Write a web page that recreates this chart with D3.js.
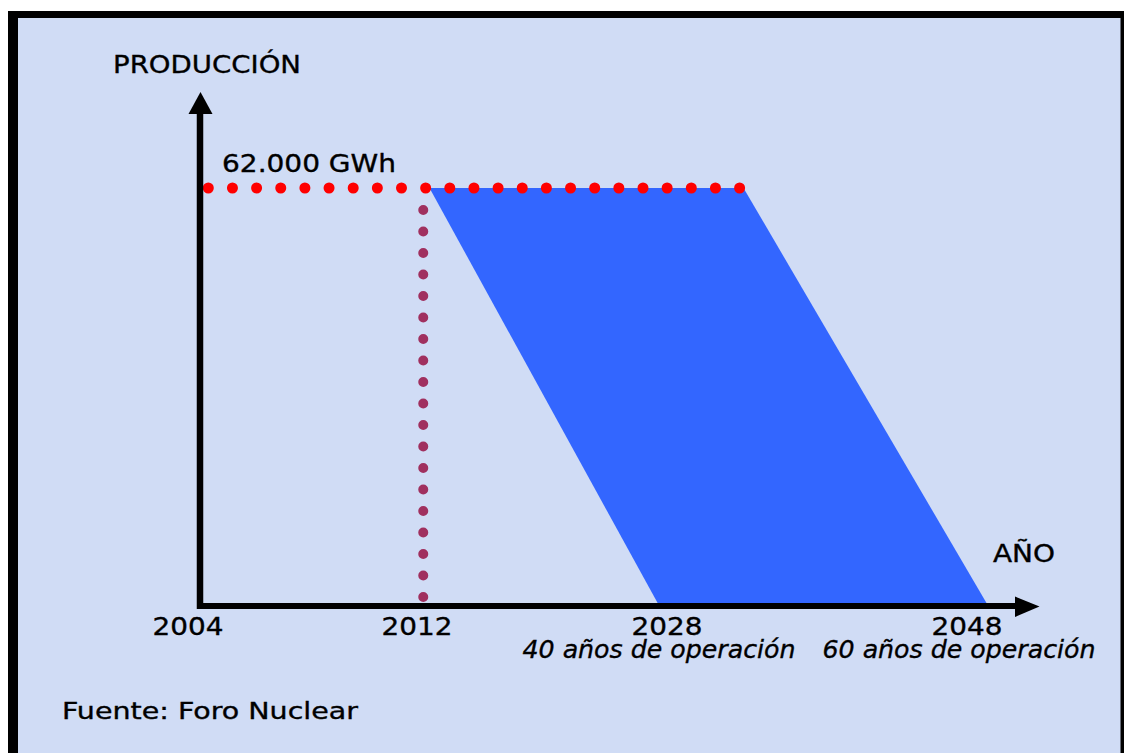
<!DOCTYPE html>
<html>
<head>
<meta charset="utf-8">
<script src="https://cdnjs.cloudflare.com/ajax/libs/d3/7.8.5/d3.min.js"></script>
<style>
  html, body { margin: 0; padding: 0; background: #fff; }
  svg { display: block; }
  text { font-family: "DejaVu Sans", "Noto Sans", sans-serif; fill: #000; stroke: #000; stroke-width: 0.35px; }
</style>
</head>
<body>
<div id="chart"></div>
<script>
// años que aparecen en el eje
var tickYears = [2004, 2012, 2028, 2048];
var tickNotes = ['', '', '40 años de operación', '60 años de operación'];

// producción máxima
var maxProduction = 62000;
var productionLabel = '62.000 GWh';

// año actual (línea punteada vertical)
var currentYear = 2012.4;

// área de producción: [año, GWh]
var areaYears = [2012.8, 2033.1, 2049.3, 2027.4];
var areaValues = [62000, 62000, 0, 0];

var width = 1124;
var height = 753;

var svg = d3.select('#chart')
  .append('svg')
  .attr('width', width)
  .attr('height', height);

// marco negro y fondo
svg.append('rect')
  .attr('x', 8).attr('y', 11)
  .attr('width', width - 8).attr('height', height - 11)
  .attr('fill', '#000');
svg.append('rect')
  .attr('x', 18).attr('y', 18)
  .attr('width', width - 18 - 3.5).attr('height', height - 18)
  .attr('fill', '#d0dcf5');

// escalas
var x = d3.scaleLinear()
  .domain(tickYears)
  .range([188, 417, 667, 967]);
var y = d3.scaleLinear()
  .domain([0, maxProduction])
  .range([603, 188]);

var axisX = 200;   // posición del eje vertical
var axisY = 606;   // posición del eje horizontal

// área azul
var area = areaYears.map(function (d, i) {
  return [x(d), y(areaValues[i])];
});
svg.append('path')
  .attr('d', d3.line()(area) + 'Z')
  .attr('fill', '#3366ff');

// línea punteada roja (62.000 GWh)
svg.append('line')
  .attr('x1', axisX + 8.3)
  .attr('x2', x(areaYears[1]) - 3)
  .attr('y1', y(maxProduction))
  .attr('y2', y(maxProduction))
  .attr('stroke', '#ff0000')
  .attr('stroke-width', 11)
  .attr('stroke-linecap', 'round')
  .attr('stroke-dasharray', '0,24.15');

// línea punteada vertical
svg.append('line')
  .attr('x1', x(currentYear))
  .attr('x2', x(currentYear))
  .attr('y1', y(maxProduction) + 22)
  .attr('y2', y(0) - 5.5)
  .attr('stroke', '#a0305f')
  .attr('stroke-width', 10)
  .attr('stroke-linecap', 'round')
  .attr('stroke-dasharray', '0,21.5');

// ejes
svg.append('line')
  .attr('x1', axisX).attr('x2', axisX)
  .attr('y1', axisY + 3).attr('y2', 112)
  .attr('stroke', '#000').attr('stroke-width', 6.5);
svg.append('path')
  .attr('d', 'M' + (axisX - 11.5) + ',114L' + (axisX + 12.5) + ',114L' + (axisX + 0.5) + ',92Z')
  .attr('fill', '#000');

svg.append('line')
  .attr('x1', axisX - 3).attr('x2', 1017)
  .attr('y1', axisY).attr('y2', axisY)
  .attr('stroke', '#000').attr('stroke-width', 6);
svg.append('path')
  .attr('d', 'M1015,596.5L1015,617L1039.5,606.5Z')
  .attr('fill', '#000');

// etiquetas de los años
var ticks = svg.append('g')
  .selectAll('g')
  .data(tickYears)
  .enter()
  .append('g')
  .attr('transform', function (d) { return 'translate(' + x(d) + ',0)'; });

ticks.append('text')
  .attr('y', 634.5)
  .attr('text-anchor', 'middle')
  .attr('font-size', 24)
  .attr('textLength', 71)
  .attr('lengthAdjust', 'spacingAndGlyphs')
  .text(function (d) { return d; });

ticks.filter(function (d, i) { return tickNotes[i]; })
  .append('text')
  .attr('x', -8)
  .attr('y', 658)
  .attr('text-anchor', 'middle')
  .attr('font-size', 24)
  .attr('font-style', 'italic')
  .attr('textLength', 273)
  .attr('lengthAdjust', 'spacingAndGlyphs')
  .text(function (d) { return tickNotes[tickYears.indexOf(d)]; });

// títulos
svg.append('text')
  .attr('x', 113).attr('y', 73)
  .attr('font-size', 24.5)
  .attr('textLength', 188)
  .attr('lengthAdjust', 'spacingAndGlyphs')
  .text('PRODUCCIÓN');

svg.append('text')
  .attr('x', 222).attr('y', 172)
  .attr('font-size', 24)
  .attr('textLength', 174)
  .attr('lengthAdjust', 'spacingAndGlyphs')
  .text(productionLabel);

svg.append('text')
  .attr('x', 993).attr('y', 562)
  .attr('font-size', 24)
  .attr('textLength', 62)
  .attr('lengthAdjust', 'spacingAndGlyphs')
  .text('AÑO');

svg.append('text')
  .attr('x', 62).attr('y', 719)
  .attr('font-size', 23)
  .attr('textLength', 296)
  .attr('lengthAdjust', 'spacingAndGlyphs')
  .text('Fuente: Foro Nuclear');
</script>
</body>
</html>
